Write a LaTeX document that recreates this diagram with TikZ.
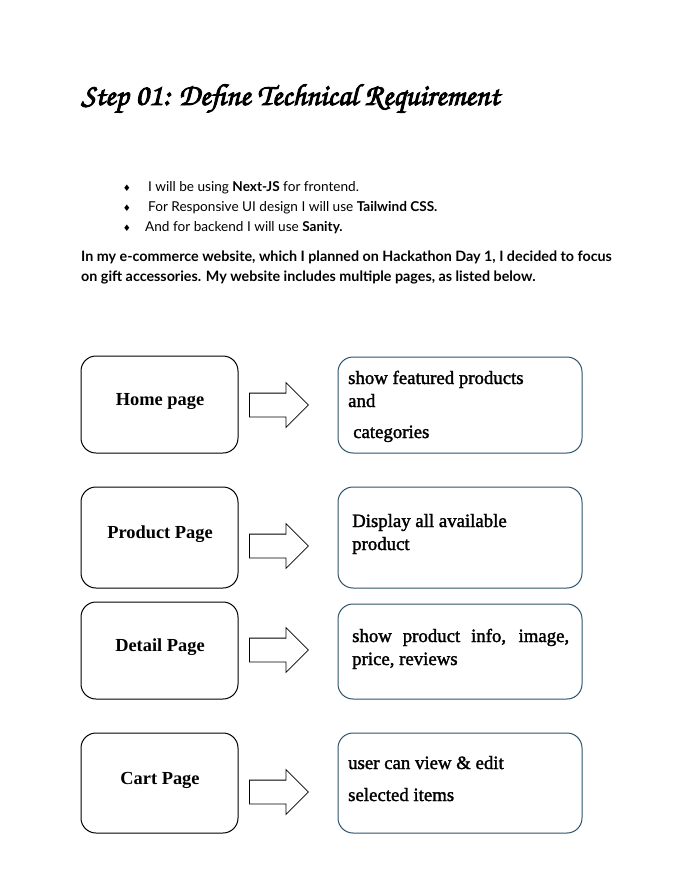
\documentclass[tikz,border=0pt]{standalone}
\usepackage[T1]{fontenc}
\usepackage{fontspec}
\newfontfamily\bodyfont{Lato}
\newfontfamily\boxfont{Liberation Serif}
\newfontfamily\symfont{DejaVu Sans}
\newcommand{\titlefont}{\fontencoding{T1}\fontfamily{pzc}\fontseries{mb}\fontshape{it}\selectfont}
\newcommand{\heavy}[2][0.9]{\special{pdf:literal direct 2 Tr #1 w}#2\special{pdf:literal direct 0 Tr}}
\usetikzlibrary{shapes.arrows,positioning}
\definecolor{boxblue}{RGB}{46,84,110}

\begin{document}
\begin{tikzpicture}[x=1pt,y=-1pt,
	pagebox/.style={draw, line width=1pt, rounded corners=15pt, minimum width=157pt},
	infobox/.style={draw=boxblue, line width=1pt, rounded corners=15pt, minimum width=244pt},
	pagetext/.style={anchor=base, inner sep=0pt, font=\boxfont\bfseries\fontsize{18.4}{21}\selectfont},
	info/.style={anchor=base west, inner sep=0pt, font=\boxfont\fontsize{18.8}{21}\selectfont},
	blockarrow/.style={single arrow, draw, line width=0.8pt, minimum height=59pt, minimum width=44pt,
		single arrow head extend=10.5pt, inner xsep=0pt, inner ysep=11.5pt, anchor=tail},
	bullet/.style={anchor=base, inner sep=0pt, font=\symfont\fontsize{9}{10}\selectfont},
	line/.style={anchor=base west, inner sep=0pt, font=\bodyfont\fontsize{13.6}{15}\selectfont},
	para/.style={line, font=\bodyfont\bfseries\fontsize{14.3}{16}\selectfont}]
	
	\useasboundingbox[fill=white] (0,0) rectangle (698,889);
	
	% heading and introduction
	\node[anchor=base west, inner sep=0pt, font=\titlefont\fontsize{30.5}{34}\selectfont] (title) at (81,105) {\heavy{Step 01: Define Technical Requirement}};
	
	\node[bullet] (b1) at (127,191) {♦};
	\node[bullet] (b2) at (127,211) {♦};
	\node[bullet] (b3) at (127,231) {♦};
	\node[line] (l1) at (148,191) {I will be using \textbf{Next-JS} for frontend.};
	\node[line] (l2) at (148,211) {For Responsive UI design I will use \textbf{Tailwind CSS.}};
	\node[line] (l3) at (145,231) {And for backend I will use \textbf{Sanity.}};
	\node[para] (p1) at (81,261) {In my e-commerce website, which I planned on Hackathon Day 1, I decided to focus};
	\node[para] (p2) at (81,281) {on gift accessories. My website includes multiple pages, as listed below.};
	
	% pages
	\node[pagebox, minimum height=97pt] (home) at (159.5,404.5) {};
	\node[pagebox, minimum height=101pt] (product) at (159.5,537.5) {};
	\node[pagebox, minimum height=97pt] (detail) at (159.5,650.5) {};
	\node[pagebox, minimum height=100pt] (cart) at (159.5,783) {};
	\node[pagetext] (hometext) at (160,405.5) {Home page};
	\node[pagetext] (producttext) at (160,538.5) {Product Page};
	\node[pagetext] (detailtext) at (160,651.5) {Detail Page};
	\node[pagetext] (carttext) at (160,784.5) {Cart Page};
	
	% arrows
	\node[blockarrow] (a1) at (249,405) {};
	\node[blockarrow] (a2) at (249,546) {};
	\node[blockarrow] (a3) at (249,650) {};
	\node[blockarrow] (a4) at (249,792) {};
	
	% what each page shows
	\node[infobox, minimum height=96pt] (homeinfo) at (460,405) {};
	\node[infobox, minimum height=101pt] (productinfo) at (460,537.5) {};
	\node[infobox, minimum height=95pt] (detailinfo) at (460,651.5) {};
	\node[infobox, minimum height=100pt] (cartinfo) at (460,783) {};
	
	\node[info] (h1) at (348,384) {\heavy[0.3]{show featured products}};
	\node[info] (h2) at (348,407) {\heavy[0.3]{and}};
	\node[info] (h3) at (353,438) {\heavy[0.3]{categories}};
	\node[info] (pr1) at (352,527) {\heavy[0.3]{Display all available}};
	\node[info] (pr2) at (352,550) {\heavy[0.3]{product}};
	\node[info] (d1) at (352,642) {\heavy[0.3]{\makebox[217pt][s]{show product info, image,}}};
	\node[info] (d2) at (352,665) {\heavy[0.3]{price, reviews}};
	\node[info] (c1) at (348,769) {\heavy[0.3]{user can view \& edit}};
	\node[info] (c2) at (348,801) {\heavy[0.3]{selected items}};
\end{tikzpicture}
\end{document}
